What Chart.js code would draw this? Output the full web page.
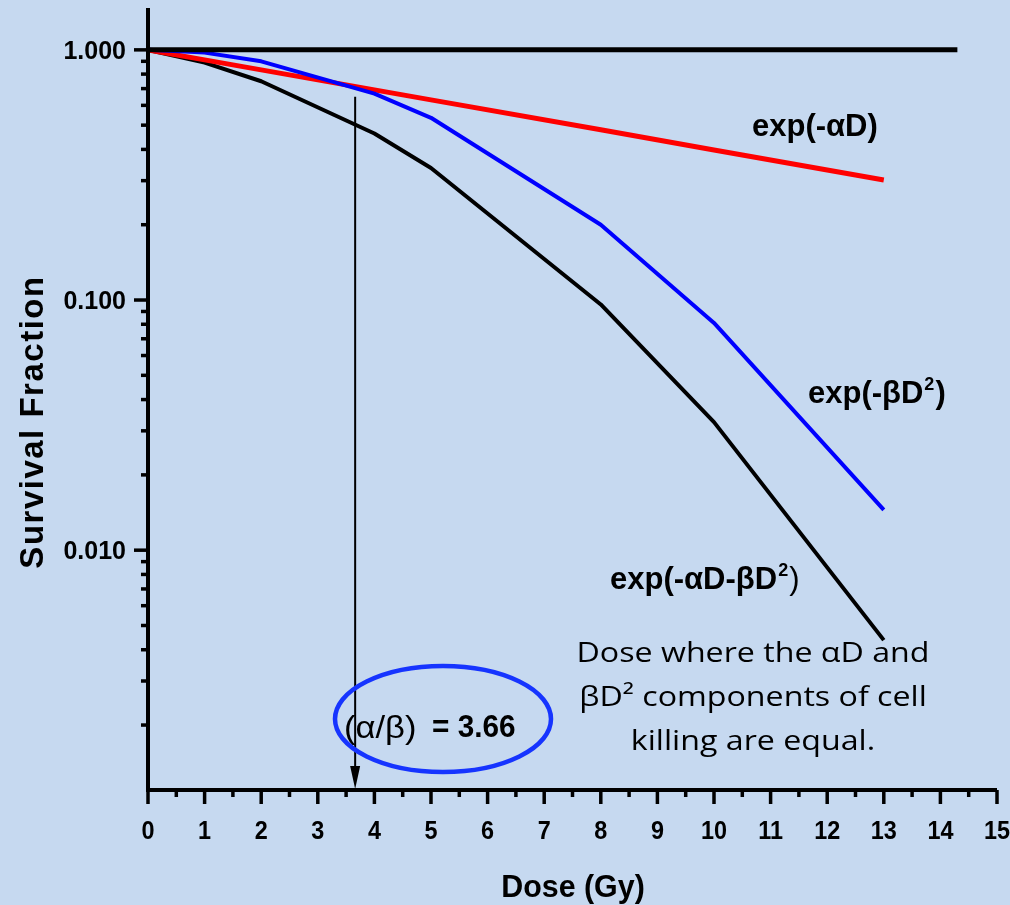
<!DOCTYPE html>
<html>
<head>
<meta charset="utf-8">
<script src="https://cdn.jsdelivr.net/npm/chart.js@4.4.1/dist/chart.umd.min.js"></script>
<style>
  html, body { margin: 0; padding: 0; background: #c6d9f0; }
  #wrap { width: 1010px; height: 905px; }
</style>
</head>
<body>
<div id="wrap"><canvas id="chart"></canvas></div>
<script>
// === DATA ===
const doses = [0, 1, 2, 4, 5, 8, 10, 13];
const linearKill = [1.000, 0.912, 0.832, 0.692, 0.631, 0.479, 0.398, 0.302];    // exp(-aD)
const quadKill = [1.000, 0.975, 0.900, 0.668, 0.535, 0.200, 0.081, 0.0145];      // exp(-bD^2)
const combinedKill = [1.000, 0.889, 0.749, 0.463, 0.337, 0.096, 0.0325, 0.00437]; // exp(-aD-bD^2)
const refDose = [0, 14.3];
const refSF = [1, 1];

const alphaBeta = 3.66;
const arrowTopSF = 0.65;

const xTickValues = [0, 1, 2, 3, 4, 5, 6, 7, 8, 9, 10, 11, 12, 13, 14, 15];
const xTickLabels = ["0", "1", "2", "3", "4", "5", "6", "7", "8", "9", "10", "11", "12", "13", "14", "15"];
const yTickValues = [1, 0.1, 0.01];
const yTickLabels = ["1.000", "0.100", "0.010"];

const BG = "#c6d9f0";
const ARIAL = "'Liberation Sans', Arial, sans-serif";
const BODY = "'Open Sans', Lato, sans-serif";

function toPoints(xs, ys) {
  return xs.map((x, i) => ({ x: x, y: ys[i] }));
}

// text squeezed horizontally by sx, returns drawn width
function squeezed(ctx, text, x, y, font, sx, align) {
  ctx.save();
  ctx.font = font;
  const w = ctx.measureText(text).width * sx;
  let left = x;
  if (align === "center") left = x - w / 2;
  else if (align === "right") left = x - w;
  ctx.translate(left, y);
  ctx.scale(sx, 1);
  ctx.textAlign = "left";
  ctx.fillText(text, 0, 0);
  ctx.restore();
  return w;
}

// text with a superscript "2" and a closing bracket
function drawPower(ctx, x, y, head, size, closeBold) {
  let cx = x + squeezed(ctx, head, x, y, `bold ${size}px ${ARIAL}`, 1, "left") + 1;
  cx += squeezed(ctx, "2", cx, y - size * 0.42, `bold ${Math.round(size * 0.58)}px ${ARIAL}`, 1, "left") + 1;
  squeezed(ctx, ")", cx, y, `${closeBold ? "bold " : ""}${size}px ${ARIAL}`, 1, "left");
}

const decorations = {
  id: "decorations",
  beforeDraw(chart) {
    const { ctx, width, height } = chart;
    ctx.save();
    ctx.fillStyle = BG;
    ctx.fillRect(0, 0, width, height);
    ctx.restore();
  },
  afterDraw(chart) {
    const { ctx, chartArea: a } = chart;
    const xs = chart.scales.x, ys = chart.scales.y;
    ctx.save();
    ctx.fillStyle = "#000";
    ctx.strokeStyle = "#000";

    // axes
    ctx.lineWidth = 4;
    ctx.beginPath();
    ctx.moveTo(a.left, a.top);
    ctx.lineTo(a.left, a.bottom);
    ctx.lineTo(a.right, a.bottom);
    ctx.stroke();

    // x ticks
    ctx.lineWidth = 3.5;
    xTickValues.forEach(v => {
      const px = xs.getPixelForValue(v);
      ctx.beginPath();
      ctx.moveTo(px, a.bottom);
      ctx.lineTo(px, a.bottom + 14);
      ctx.stroke();
      if (v < 15) {
        const mx = xs.getPixelForValue(v + 0.5);
        ctx.beginPath();
        ctx.moveTo(mx, a.bottom);
        ctx.lineTo(mx, a.bottom + 7);
        ctx.stroke();
      }
    });

    // y ticks (log minor ticks between decades)
    for (let e = -3; e <= 0; e++) {
      for (let m = 1; m <= 9; m++) {
        const v = m * Math.pow(10, e);
        if (v < ys.min || v > ys.max) continue;
        const py = ys.getPixelForValue(v);
        const len = m === 1 ? 14 : 7;
        ctx.beginPath();
        ctx.moveTo(a.left - len, py);
        ctx.lineTo(a.left, py);
        ctx.stroke();
      }
    }

    // tick labels
    xTickValues.forEach((v, i) => {
      squeezed(ctx, xTickLabels[i], xs.getPixelForValue(v), 839, `bold 26px ${ARIAL}`, 0.9, "center");
    });
    yTickValues.forEach((v, i) => {
      squeezed(ctx, yTickLabels[i], 126, ys.getPixelForValue(v) + 9, `bold 25px ${ARIAL}`, 1, "right");
    });

    // axis titles
    squeezed(ctx, "Dose (Gy)", 573, 897, `bold 32px ${ARIAL}`, 0.95, "center");
    ctx.save();
    ctx.translate(43, 422);
    ctx.rotate(-Math.PI / 2);
    ctx.letterSpacing = "1.5px";
    squeezed(ctx, "Survival Fraction", 0, 0, `bold 33px ${ARIAL}`, 1, "center");
    ctx.restore();

    // arrow at the alpha/beta dose
    const ax = xs.getPixelForValue(alphaBeta);
    const top = ys.getPixelForValue(arrowTopSF);
    ctx.lineWidth = 2;
    ctx.beginPath();
    ctx.moveTo(ax, top);
    ctx.lineTo(ax, a.bottom - 20);
    ctx.stroke();
    ctx.beginPath();
    ctx.moveTo(ax - 5, a.bottom - 24);
    ctx.lineTo(ax + 5, a.bottom - 24);
    ctx.lineTo(ax, a.bottom - 1);
    ctx.closePath();
    ctx.fill();

    // curve labels
    squeezed(ctx, "exp(-\u03b1D)", 752, 136, `bold 31px ${ARIAL}`, 1, "left");
    drawPower(ctx, 808, 403, "exp(-\u03b2D", 31, true);
    drawPower(ctx, 610, 589, "exp(-\u03b1D-\u03b2D", 31, false);

    // alpha/beta label and its ellipse
    squeezed(ctx, "(\u03b1/\u03b2)", 344, 738, `32px ${ARIAL}`, 1.08, "left");
    squeezed(ctx, "= 3.66", 432, 737, `bold 32px ${ARIAL}`, 0.93, "left");

    ctx.strokeStyle = "#1634ff";
    ctx.lineWidth = 4.5;
    ctx.beginPath();
    ctx.ellipse(443, 719, 108, 53, 0, 0, Math.PI * 2);
    ctx.stroke();

    // note
    ctx.fillStyle = "#000";
    const note = ["Dose where the \u03b1D and", "\u03b2D\u00b2 components of cell", "killing are equal."];
    ctx.font = `28px ${BODY}`;
    const fit = 353 / ctx.measureText(note[0]).width;
    note.forEach((line, i) => {
      squeezed(ctx, line, 753, 662 + i * 44, `28px ${BODY}`, fit, "center");
    });

    ctx.restore();
  }
};

new Chart(document.getElementById("chart"), {
  type: "scatter",
  data: {
    datasets: [
      { label: "reference", data: toPoints(refDose, refSF), borderColor: "#000", borderWidth: 5 },
      { label: "exp(-bD2)", data: toPoints(doses, quadKill), borderColor: "#0000ff", borderWidth: 4 },
      { label: "exp(-aD)", data: toPoints(doses, linearKill), borderColor: "#ff0000", borderWidth: 5 },
      { label: "exp(-aD-bD2)", data: toPoints(doses, combinedKill), borderColor: "#000", borderWidth: 4 }
    ]
  },
  options: {
    responsive: true,
    maintainAspectRatio: false,
    animation: false,
    showLine: true,
    elements: { point: { radius: 0, hoverRadius: 0 }, line: { tension: 0, borderJoinStyle: "round" } },
    layout: { padding: { left: 148, right: 13, top: 8, bottom: 115 } },
    plugins: { legend: { display: false }, tooltip: { enabled: false } },
    scales: {
      x: { type: "linear", min: 0, max: 15, display: false },
      y: { type: "logarithmic", min: 0.0011, max: 1.47, display: false }
    }
  },
  plugins: [decorations]
});
</script>
</body>
</html>
